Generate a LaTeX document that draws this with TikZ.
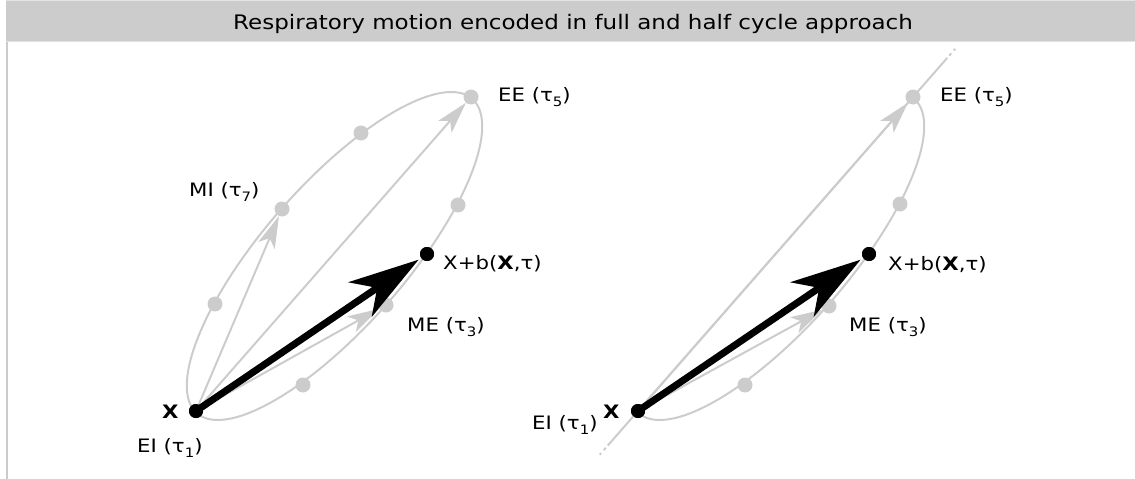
\documentclass[tikz,border=0pt]{standalone}
\usepackage{fontspec}
\setmainfont{DejaVu Sans}[FakeStretch=1.15]
\usetikzlibrary{arrows.meta,calc}
\definecolor{lg}{HTML}{CCCCCC}
\definecolor{lb}{HTML}{E4E4E4}
\newcommand\tsub[1]{\raisebox{-0.28em}{\fontsize{13}{13}\selectfont #1}}
\newcommand\elx[1]{334.5+209*0.659*cos(#1)+71*0.752*sin(#1)}
\newcommand\ely[1]{256-209*0.752*cos(#1)+71*0.659*sin(#1)}
\begin{document}
\begin{tikzpicture}[x=1pt,y=-1pt,
 gdot/.style={circle,fill=lg,inner sep=0pt,minimum size=15pt},
 bdot/.style={circle,fill=black,inner sep=0pt,minimum size=14pt},
 gline/.style={draw=lg,line width=2pt},
 garrow/.style={draw=lg,line width=2pt,-{Stealth[length=32pt,width=18pt,inset=8pt,line width=0pt]}},
 barrow/.style={draw=black,line width=7pt,-{Stealth[length=71pt,width=42pt,inset=21pt,line width=0pt]},shorten >=3pt},
 lbl/.style={font=\fontsize{18.5}{22}\selectfont,inner sep=0pt,anchor=base west},
]
\useasboundingbox (0,0) rectangle (1135,479);
% header
\fill[lg] (6,1) rectangle (1135,41);
\draw[lb,line width=1.5pt] (6,41.5) -- (1135,41.5);
\draw[lb,line width=1pt] (6,0.5) -- (1135,0.5);
\draw[lg,line width=2pt] (7,42) -- (7,479);
\node[lbl,anchor=base,font=\fontsize{20}{24}\selectfont] (title) at (573,29) {Respiratory motion encoded in full and half cycle approach};

% ===== left: full cycle =====
\draw[gline] plot[domain=0:360,samples=145,smooth cycle] ({\elx{\x}},{\ely{\x}});
\node[gdot] (Lee) at (471,97) {};
\node[gdot] (La) at (361,133) {};
\node[gdot] (Lmi) at (282,209) {};
\node[gdot] (Lb) at (215,304) {};
\node[gdot] (Lc) at (303,385) {};
\node[gdot] (Lme) at (386,305) {};
\node[gdot] (Ld) at (458,205) {};
\node[bdot] (Lx) at (196,411) {};
\node[bdot] (Lxb) at (427,254) {};
\draw[garrow] (Lx.center) -- (Lmi);
\draw[garrow] (Lx.center) -- (Lee);
\draw[garrow] (Lx.center) -- (Lme);
\draw[barrow] (Lx.center) -- (Lxb);
\node[bdot] at (Lx) {};
\node[bdot] at (Lxb) {};
\node[lbl] (LtX) at (162,418) {\textbf{X}};
\node[lbl] (LtEI) at (137,452) {EI (τ\tsub{1})};
\node[lbl] (LtMI) at (189,196) {MI (τ\tsub{7})};
\node[lbl] (LtEE) at (498,101) {EE (τ\tsub{5})};
\node[lbl] (LtXb) at (443,269) {X+b(\textbf{X},τ)};
\node[lbl] (LtME) at (407,331) {ME (τ\tsub{3})};

% ===== right: half cycle =====
\begin{scope}[xshift=442pt]
\draw[gline] plot[domain=0:180,samples=80,smooth] ({\elx{\x}},{\ely{\x}});
\end{scope}
\node[gdot] (Ree) at (913,97) {};
\node[gdot] (Rd) at (900,204) {};
\node[gdot] (Rme) at (829,306) {};
\node[gdot] (Rc) at (745,385) {};
\node[bdot] (Rx) at (638,411) {};
\node[bdot] (Rxb) at (869,254) {};
\coordinate (Rs1) at ($(Rx.center)!-40pt!(Ree.center)$);
\coordinate (Rs0) at ($(Rx.center)!-62pt!(Ree.center)$);
\coordinate (Rt1) at ($(Ree.center)!-46pt!(Rx.center)$);
\coordinate (Rt0) at ($(Ree.center)!-68pt!(Rx.center)$);
\draw[gline] (Rs1) -- (Rt1);
\draw[gline,dash pattern=on 6pt off 3pt on 3pt off 4pt on 2pt off 20pt] (Rs1) -- (Rs0);
\draw[gline,dash pattern=on 6pt off 3pt on 3pt off 4pt on 2pt off 20pt] (Rt1) -- (Rt0);
\draw[garrow] (Rx.center) -- (Ree);
\draw[garrow] (Rx.center) -- (Rme);
\draw[barrow] (Rx.center) -- (Rxb);
\node[bdot] at (Rx) {};
\node[bdot] at (Rxb) {};
\node[lbl] (RtX) at (603,418) {\textbf{X}};
\node[lbl] (RtEI) at (532,429) {EI (τ\tsub{1})};
\node[lbl] (RtEE) at (940,101) {EE (τ\tsub{5})};
\node[lbl] (RtXb) at (888,270) {X+b(\textbf{X},τ)};
\node[lbl] (RtME) at (849,331) {ME (τ\tsub{3})};
\end{tikzpicture}
\end{document}
